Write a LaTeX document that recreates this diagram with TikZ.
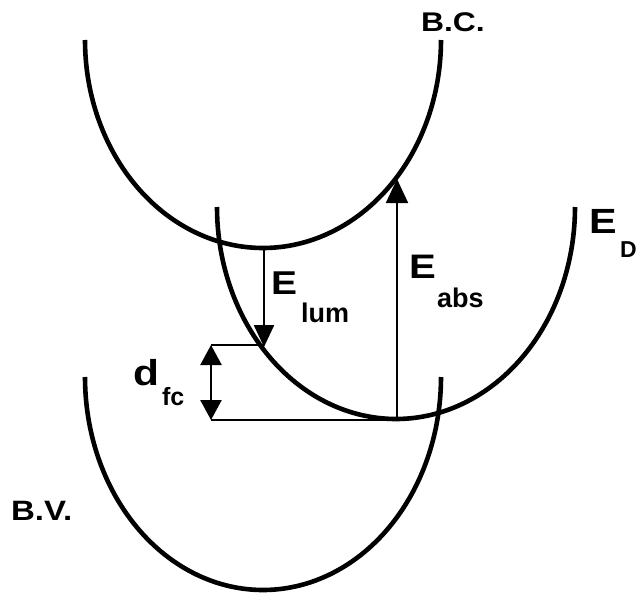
\documentclass[tikz,border=0pt]{standalone}
\usepackage{fontspec}
\usetikzlibrary{arrows.meta}
\newfontfamily\labfont[FakeStretch=1.18]{Liberation Sans Bold}
\newfontfamily\subfont{Liberation Sans Bold}
\tikzset{
  band/.style={line width=4.6pt},
  thinline/.style={line width=2pt},
  tri/.style={line width=2.4pt,-{Triangle[length=22pt,width=20pt]}},
  dtri/.style={line width=2.4pt,{Triangle[length=20pt,width=21pt]}-{Triangle[length=20pt,width=21pt]}},
  lab/.style={anchor=base west,inner sep=0pt,outer sep=0pt}
}
\begin{document}
\begin{tikzpicture}[x=1pt,y=-1pt]
\useasboundingbox (0,0) rectangle (637,594);
% curves
\draw[band] plot[domain=180:360,samples=90,smooth] ({263+178*cos(\x)},{40-208*sin(\x)});
\draw[band] plot[domain=180:360,samples=90,smooth] ({396+179*cos(\x)},{207-212*sin(\x)});
\draw[band] plot[domain=180:360,samples=90,smooth] ({263+178*cos(\x)},{377-213*sin(\x)});
% key points
\coordinate (lumtop) at (264,248);
\coordinate (lumtip) at (264,347);
\coordinate (dtop) at (211,345);
\coordinate (dbot) at (211,420);
\coordinate (absbot) at (397,420);
\coordinate (abstip) at (397,179);
% connectors
\draw[tri] (lumtop) -- (lumtip);
\draw[thinline] (dtop) -- (lumtip |- dtop);
\draw[dtri] (dtop) -- (dbot);
\draw[thinline] (dbot) -- (absbot);
\draw[line width=1.8pt,-{Triangle[length=24pt,width=22pt]}] (absbot) -- (abstip);
% labels
\node[lab] (bc) at (421,32) {\labfont\fontsize{27}{27}\selectfont B.C.};
\node[lab] (bv) at (11,520) {\labfont\fontsize{28}{28}\selectfont B.V.};
\node[lab] (elum) at (271,294) {\labfont\fontsize{33}{33}\selectfont E};
\node[lab] (lum) at (301,322) {\subfont\fontsize{27}{27}\selectfont lum};
\node[lab] (eabs) at (409,278) {\labfont\fontsize{34}{34}\selectfont E};
\node[lab] (abs) at (437,307) {\subfont\fontsize{27}{27}\selectfont abs};
\node[lab] (ed) at (589,233) {\labfont\fontsize{35}{35}\selectfont E};
\node[lab] (dd) at (620,257) {\subfont\fontsize{23}{23}\selectfont D};
\node[lab] (dfc) at (133,385) {\labfont\fontsize{36}{36}\selectfont d};
\node[lab] (fc) at (162,405) {\subfont\fontsize{25}{25}\selectfont fc};
\end{tikzpicture}
\end{document}
